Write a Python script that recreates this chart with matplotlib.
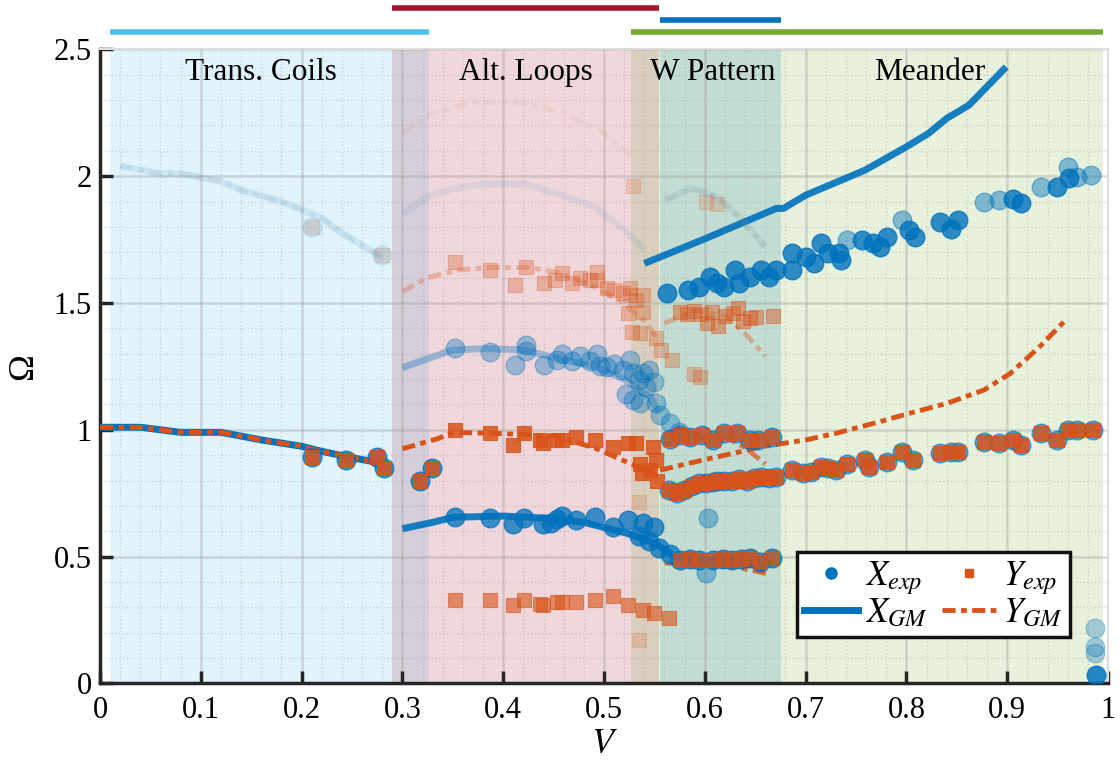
import numpy as np
import matplotlib.pyplot as plt
from matplotlib.lines import Line2D

plt.rcParams['font.family'] = ['Liberation Serif', 'DejaVu Serif']
plt.rcParams['mathtext.fontset'] = 'stix'

BLUE = '#0072BD'
ORANGE = '#D95319'

# Regions (shaded spans + bars above the axes)
region_names = ['Trans. Coils', 'Alt. Loops', 'W Pattern', 'Meander']
region_start = [0.01, 0.29, 0.556, 0.527]
region_end = [0.326, 0.555, 0.676, 0.995]
region_colors = ['#4DBEEE', '#A2142F', '#0072BD', '#77AC30']
region_label_x = [0.16, 0.422, 0.608, 0.823]

# ---- GM model curves ----
tc_gm_x = [0, 0.04, 0.08, 0.12, 0.16, 0.2, 0.22, 0.25, 0.27, 0.28]
tc_gm_y = [1.01, 1.01, 0.99, 0.99, 0.96, 0.935, 0.915, 0.89, 0.875, 0.85]

tc_up_x = [0.02, 0.06, 0.08, 0.12, 0.14, 0.18, 0.22, 0.24, 0.28]
tc_up_y = [2.04, 2.01, 2.01, 1.98, 1.945, 1.9, 1.835, 1.775, 1.68]

al_top_x = [0.3, 0.325, 0.35, 0.38, 0.42, 0.455, 0.49, 0.52, 0.54]
al_top_y = [1.85, 1.92, 1.95, 1.97, 1.97, 1.93, 1.88, 1.79, 1.71]

al_faint_x = [0.3, 0.33, 0.37, 0.42, 0.46, 0.5, 0.53]
al_faint_y = [2.17, 2.25, 2.29, 2.29, 2.25, 2.17, 2.07]

al_xgm_mid_x = [0.3, 0.35, 0.38, 0.42, 0.455, 0.49, 0.52, 0.545, 0.555]
al_xgm_mid_y = [1.245, 1.315, 1.32, 1.315, 1.28, 1.25, 1.2, 1.13, 1.07]

al_ygm_up_x = [0.3, 0.325, 0.355, 0.39, 0.425, 0.455, 0.49, 0.515, 0.54, 0.555]
al_ygm_up_y = [1.545, 1.6, 1.63, 1.64, 1.64, 1.62, 1.565, 1.51, 1.43, 1.35]

xgm_low_x = [0.3, 0.33, 0.35, 0.4, 0.45, 0.48, 0.5, 0.52, 0.54, 0.555, 0.57, 0.6, 0.63, 0.66]
xgm_low_y = [0.61, 0.635, 0.655, 0.66, 0.65, 0.635, 0.615, 0.595, 0.57, 0.54, 0.5, 0.49, 0.485, 0.455]

ygm_w_low_x = [0.56, 0.6, 0.63, 0.665]
ygm_w_low_y = [0.475, 0.47, 0.46, 0.43]

ygm_mid_x = [0.3, 0.335, 0.35, 0.4, 0.45, 0.49, 0.51, 0.53, 0.55, 0.583, 0.62, 0.656,
             0.7, 0.73, 0.767, 0.803, 0.84, 0.877, 0.903, 0.932, 0.958]
ygm_mid_y = [0.925, 0.965, 0.99, 0.985, 0.975, 0.93, 0.895, 0.86, 0.835, 0.867, 0.9, 0.933,
             0.96, 0.986, 1.025, 1.065, 1.104, 1.157, 1.222, 1.327, 1.433]

ygm_w_mid_x = [0.56, 0.59, 0.62, 0.64, 0.66]
ygm_w_mid_y = [0.945, 0.97, 0.97, 0.93, 0.865]

ygm_w_up_x = [0.56, 0.59, 0.62, 0.64, 0.66]
ygm_w_up_y = [1.42, 1.47, 1.45, 1.38, 1.29]

w_top_x = [0.561, 0.586, 0.612, 0.634, 0.66]
w_top_y = [1.906, 1.952, 1.919, 1.84, 1.722]

xgm_up_x = [0.54, 0.597, 0.671, 0.678, 0.7, 0.759, 0.8, 0.822, 0.84, 0.862, 0.899]
xgm_up_y = [1.656, 1.748, 1.873, 1.873, 1.925, 2.024, 2.116, 2.169, 2.228, 2.28, 2.431]

# ---- experimental points ----
# Trans. Coils (both X and Y)
tc_exp_x = [0.21, 0.244, 0.275, 0.282, 0.317, 0.329]
tc_exp_y = [0.894, 0.88, 0.894, 0.85, 0.80, 0.85]
tc_up_exp_x = [0.21, 0.28]
tc_up_exp_y = [1.80, 1.69]

# Alt. Loops X_exp (upper, faded)
al_mid_exp_x = [0.352, 0.387, 0.412, 0.423, 0.423, 0.44, 0.453, 0.458, 0.468, 0.476, 0.486,
                0.493, 0.496, 0.503, 0.51, 0.519, 0.526, 0.529, 0.535, 0.539, 0.542, 0.545,
                0.55, 0.522, 0.529, 0.536, 0.552, 0.556, 0.565, 0.574]
al_mid_exp_y = [1.322, 1.307, 1.255, 1.335, 1.31, 1.255, 1.275, 1.3, 1.27, 1.29, 1.27,
                1.3, 1.25, 1.248, 1.261, 1.235, 1.275, 1.222, 1.196, 1.222, 1.17, 1.235,
                1.19, 1.143, 1.117, 1.104, 1.104, 1.058, 1.025, 0.992]

# Alt. Loops X_exp (lower)
al_low_exp_x = [0.352, 0.387, 0.41, 0.421, 0.439, 0.453, 0.447, 0.458, 0.472, 0.491,
                0.509, 0.524, 0.539, 0.55, 0.535, 0.545, 0.555, 0.565]
al_low_exp_y = [0.657, 0.654, 0.63, 0.654, 0.63, 0.65, 0.631, 0.66, 0.644, 0.657,
                0.617, 0.644, 0.631, 0.617, 0.58, 0.56, 0.535, 0.51]

# W Pattern lower band (X and Y)
w_low_exp_x = [0.575, 0.585, 0.594, 0.608, 0.618, 0.627, 0.636, 0.645, 0.655, 0.667]
w_low_exp_y = [0.486, 0.49, 0.486, 0.486, 0.49, 0.486, 0.49, 0.493, 0.48, 0.493]
w_faded_x = [0.601, 0.603]
w_faded_y = [0.434, 0.652]

# W Pattern middle band (X and Y)
w_mid_exp_x = [0.565, 0.575, 0.585, 0.597, 0.608, 0.619, 0.632, 0.645, 0.653, 0.667]
w_mid_exp_y = [0.965, 0.979, 0.97, 0.979, 0.96, 0.986, 0.986, 0.96, 0.96, 0.973]

# W / Meander band 0.75 - 1.0 (X and Y)
band_exp_x = [0.564, 0.572, 0.579, 0.587, 0.594, 0.601, 0.608, 0.612, 0.619, 0.627, 0.634,
              0.642, 0.649, 0.656, 0.664, 0.671, 0.686, 0.697, 0.705, 0.715, 0.722, 0.73,
              0.741, 0.759, 0.763, 0.781, 0.796, 0.807, 0.833, 0.844, 0.851, 0.877, 0.892,
              0.906, 0.914, 0.934, 0.949, 0.96, 0.969, 0.985]
band_exp_y = [0.762, 0.75, 0.762, 0.78, 0.789, 0.79, 0.795, 0.80, 0.797, 0.80, 0.805,
              0.80, 0.81, 0.815, 0.81, 0.815, 0.841, 0.828, 0.835, 0.854, 0.85, 0.841,
              0.867, 0.88, 0.854, 0.874, 0.913, 0.88, 0.907, 0.913, 0.913, 0.953, 0.946,
              0.96, 0.94, 0.986, 0.96, 0.999, 0.999, 0.999]

# Upper X_exp band (W / Meander)
up_exp_x = [0.5625, 0.583, 0.594, 0.605, 0.612, 0.619, 0.63, 0.634, 0.645, 0.656, 0.664,
            0.671, 0.686, 0.686, 0.70, 0.708, 0.715, 0.722, 0.733, 0.735, 0.756, 0.767,
            0.774, 0.781, 0.803, 0.809, 0.833, 0.844, 0.851, 0.906, 0.914, 0.949, 0.961]
up_exp_y = [1.538, 1.551, 1.564, 1.603, 1.577, 1.564, 1.63, 1.577, 1.603, 1.63, 1.603,
            1.63, 1.696, 1.63, 1.682, 1.656, 1.735, 1.696, 1.696, 1.67, 1.748, 1.735,
            1.722, 1.761, 1.787, 1.761, 1.82, 1.79, 1.827, 1.912, 1.893, 1.958, 1.991]
up_faded_x = [0.741, 0.796, 0.877, 0.892, 0.934, 0.96, 0.969, 0.983]
up_faded_y = [1.748, 1.827, 1.899, 1.906, 1.958, 2.037, 1.998, 2.004]

# Right edge X_exp
edge_x = [0.987, 0.987, 0.987, 0.988]
edge_y = [0.217, 0.144, 0.118, 0.035]

# Y_exp only groups
al_yup_exp_x = [0.352, 0.387, 0.412, 0.423, 0.44, 0.451, 0.458, 0.468, 0.476, 0.486, 0.493,
                0.493, 0.503, 0.51, 0.519, 0.526, 0.526, 0.532, 0.539, 0.524, 0.539, 0.528,
                0.536, 0.552, 0.557, 0.567, 0.589, 0.595]
al_yup_exp_y = [1.663, 1.63, 1.57, 1.64, 1.58, 1.59, 1.62, 1.58, 1.60, 1.59, 1.623,
                1.59, 1.56, 1.55, 1.54, 1.56, 1.53, 1.51, 1.53, 1.46, 1.465, 1.385,
                1.38, 1.36, 1.315, 1.275, 1.22, 1.21]

w_yup_exp_x = [0.575, 0.582, 0.589, 0.596, 0.602, 0.607, 0.613, 0.62, 0.628, 0.633, 0.638,
               0.645, 0.651, 0.668]
w_yup_exp_y = [1.465, 1.455, 1.47, 1.455, 1.42, 1.465, 1.41, 1.45, 1.46, 1.48, 1.43,
               1.44, 1.445, 1.45]

al_ymid_exp_x = [0.352, 0.387, 0.41, 0.421, 0.439, 0.453, 0.436, 0.458, 0.472, 0.491,
                 0.509, 0.524, 0.532, 0.549, 0.552, 0.536, 0.538, 0.546, 0.553]
al_ymid_exp_y = [0.999, 0.986, 0.94, 0.986, 0.947, 0.96, 0.96, 0.96, 0.973, 0.96,
                 0.933, 0.946, 0.946, 0.933, 0.88, 0.867, 0.828, 0.841, 0.80]

al_ylow_exp_x = [0.352, 0.387, 0.41, 0.421, 0.439, 0.453, 0.436, 0.458, 0.472, 0.491,
                 0.509, 0.524, 0.539, 0.55, 0.564]
al_ylow_exp_y = [0.328, 0.328, 0.309, 0.328, 0.309, 0.32, 0.315, 0.32, 0.32, 0.328,
                 0.344, 0.309, 0.289, 0.276, 0.256]
y_faded_x = [0.535, 0.535, 0.529, 0.601, 0.612]
y_faded_y = [0.171, 0.716, 1.96, 1.9, 1.89]

DASHDOT = (0, (2.7, 1.1, 1.2, 1.1))


def gm_line(ax, x, y, kind, alpha=1.0, color=None):
    # kind: 'x' solid thick, 'y' dash-dot
    if kind == 'x':
        ax.plot(x, y, color=color or BLUE, lw=5, alpha=alpha, solid_capstyle='butt', zorder=3)
    else:
        ax.plot(x, y, color=color or ORANGE, lw=3.5, alpha=alpha, linestyle=DASHDOT, zorder=4)


def xexp(ax, x, y, alpha=0.75):
    ax.scatter(x, y, s=180, color=BLUE, alpha=alpha, edgecolors=BLUE, linewidths=1, zorder=5)


def yexp(ax, x, y, alpha=0.85):
    ax.scatter(x, y, s=105, marker='s', color=ORANGE, alpha=alpha, edgecolors=ORANGE,
               linewidths=0.8, zorder=6)


fig = plt.figure(figsize=(11.2, 7.67), dpi=100)
ax = fig.add_axes([0.0893, 0.109, 0.9, 0.8266])

# shaded regions + bars on top
bar_y = [1.027, 1.065, 1.046, 1.027]
for s, e, c, by, name, lx in zip(region_start, region_end, region_colors, bar_y,
                                  region_names, region_label_x):
    ax.axvspan(s, e, color=c, alpha=0.17, lw=0, zorder=0)
    ax.plot([s, e], [by, by], color=c, lw=4, transform=ax.get_xaxis_transform(),
            clip_on=False, solid_capstyle='butt')
    ax.text(lx, 2.41, name, ha='center', va='center', fontsize=22.5, zorder=7)

# faint branches
gm_line(ax, tc_up_x, tc_up_y, 'x', alpha=0.1)
gm_line(ax, tc_up_x, tc_up_y, 'y', alpha=0.12, color='#888888')
gm_line(ax, al_top_x, al_top_y, 'x', alpha=0.08)
gm_line(ax, al_faint_x, al_faint_y, 'y', alpha=0.06)
gm_line(ax, w_top_x, w_top_y, 'x', alpha=0.08)
gm_line(ax, w_top_x, w_top_y, 'y', alpha=0.15, color='#888888')
gm_line(ax, al_xgm_mid_x, al_xgm_mid_y, 'x', alpha=0.35)
gm_line(ax, al_ygm_up_x, al_ygm_up_y, 'y', alpha=0.3)
gm_line(ax, ygm_w_up_x, ygm_w_up_y, 'y', alpha=0.35)

# main branches
gm_line(ax, tc_gm_x, tc_gm_y, 'x')
gm_line(ax, tc_gm_x, tc_gm_y, 'y')
gm_line(ax, xgm_low_x, xgm_low_y, 'x', alpha=0.9)
gm_line(ax, ygm_w_low_x, ygm_w_low_y, 'y', alpha=0.8)
gm_line(ax, ygm_mid_x, ygm_mid_y, 'y')
gm_line(ax, ygm_w_mid_x, ygm_w_mid_y, 'y', alpha=0.7)
gm_line(ax, xgm_up_x, xgm_up_y, 'x', alpha=0.9)

# experimental X
xexp(ax, tc_up_exp_x, tc_up_exp_y, alpha=0.12)
xexp(ax, tc_exp_x, tc_exp_y)
xexp(ax, al_mid_exp_x, al_mid_exp_y, alpha=0.35)
xexp(ax, al_low_exp_x, al_low_exp_y)
xexp(ax, w_low_exp_x, w_low_exp_y)
xexp(ax, w_faded_x, w_faded_y, alpha=0.4)
xexp(ax, w_mid_exp_x, w_mid_exp_y, alpha=0.6)
xexp(ax, band_exp_x, band_exp_y, alpha=0.6)
xexp(ax, up_exp_x, up_exp_y, alpha=0.8)
xexp(ax, up_faded_x, up_faded_y, alpha=0.45)
xexp(ax, edge_x[:3], edge_y[:3], alpha=0.3)
xexp(ax, edge_x[3:], edge_y[3:], alpha=0.85)

# experimental Y
yexp(ax, tc_up_exp_x, tc_up_exp_y, alpha=0.15)
yexp(ax, tc_exp_x, tc_exp_y)
yexp(ax, al_yup_exp_x, al_yup_exp_y, alpha=0.3)
yexp(ax, w_yup_exp_x, w_yup_exp_y, alpha=0.45)
yexp(ax, al_ymid_exp_x, al_ymid_exp_y)
yexp(ax, al_ylow_exp_x, al_ylow_exp_y, alpha=0.6)
yexp(ax, y_faded_x, y_faded_y, alpha=0.18)
yexp(ax, w_low_exp_x, w_low_exp_y, alpha=0.75)
yexp(ax, w_mid_exp_x, w_mid_exp_y, alpha=0.8)
yexp(ax, band_exp_x, band_exp_y)

# axes styling
ax.set_xlim(0, 1)
ax.set_ylim(0, 2.5)
ax.set_xticks(np.arange(0, 1.01, 0.1))
ax.set_xticklabels(['0', '0.1', '0.2', '0.3', '0.4', '0.5', '0.6', '0.7', '0.8', '0.9', '1'])
ax.set_yticks([0, 0.5, 1, 1.5, 2, 2.5])
ax.set_yticklabels(['0', '0.5', '1', '1.5', '2', '2.5'])
ax.set_xticks(np.arange(0, 1.001, 0.02), minor=True)
ax.set_yticks(np.arange(0, 2.501, 0.1), minor=True)
ax.grid(which='major', color='#9a9a9a', lw=1.8, alpha=0.35)
ax.grid(which='minor', color='#9a9a9a', lw=1.0, alpha=0.35, linestyle=':')
ax.set_axisbelow(True)
ax.tick_params(which='major', direction='in', length=9, width=2.5, labelsize=22,
               color='#262626', pad=9)
ax.tick_params(axis='y', pad=6)
ax.tick_params(which='minor', length=0)
for side in ['left', 'bottom']:
    ax.spines[side].set_linewidth(2.5)
    ax.spines[side].set_color('#262626')
for side in ['top', 'right']:
    ax.spines[side].set_linewidth(1.5)
    ax.spines[side].set_color('#dddddd')

ax.set_xlabel('$V$', fontsize=26, labelpad=2)
ax.set_ylabel('Ω', fontsize=26, labelpad=10)

handles = [Line2D([], [], color=BLUE, marker='o', ls='none', markersize=8),
           Line2D([], [], color=BLUE, lw=5),
           Line2D([], [], color=ORANGE, marker='s', ls='none', markersize=6),
           Line2D([], [], color=ORANGE, lw=3.5, linestyle=DASHDOT)]
labels = ['$X_{exp}$', '$X_{GM}$', '$Y_{exp}$', '$Y_{GM}$']
leg = ax.legend(handles, labels, ncol=2, loc='lower right', bbox_to_anchor=(0.962, 0.073),
                borderaxespad=0, fontsize=25, frameon=True, fancybox=False,
                handlelength=1.55, handletextpad=0.2, columnspacing=0.4, labelspacing=0.0,
                borderpad=0.2)
leg.get_frame().set_edgecolor('#111111')
leg.get_frame().set_linewidth(2.5)
leg.get_frame().set_alpha(1)
leg.set_zorder(10)

fig.savefig('out.png', dpi=100)
